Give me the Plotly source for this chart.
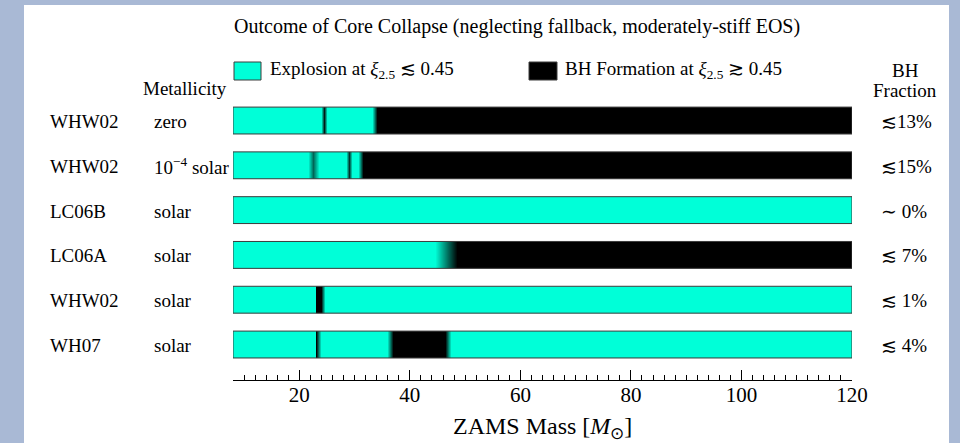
import plotly.graph_objects as go

# ---------------- data ----------------
models = ["WHW02", "WHW02", "LC06B", "LC06A", "WHW02", "WH07"]
metallicity = ["zero", "10<sup>−4</sup> solar", "solar", "solar", "solar", "solar"]
bh_fraction = ["≲13%", "≲15%", "∼ 0%", "≲ 7%", "≲ 1%", "≲ 4%"]

# ZAMS mass sample points and outcome (0 = explosion, 1 = BH formation)
mass_whw02_zero = [8, 24.0, 24.5, 25.0, 33.2, 34.1, 120]
out_whw02_zero = [0, 0, 0.9, 0, 0, 1, 1]

mass_whw02_m4 = [8, 21.5, 22.5, 23.5, 28.5, 29.0, 29.5, 30.6, 31.5, 120]
out_whw02_m4 = [0, 0, 0.6, 0, 0, 0.8, 0, 0, 1, 1]

mass_lc06b = [8, 120]
out_lc06b = [0, 0]

mass_lc06a = [8, 44.5, 48.5, 120]
out_lc06a = [0, 0, 1, 1]

mass_whw02_solar = [8, 22.9, 23.1, 24.0, 24.6, 120]
out_whw02_solar = [0, 0, 1, 1, 0, 0]

mass_wh07 = [8, 22.8, 23.1, 24.0, 35.8, 37.0, 46.3, 47.4, 120]
out_wh07 = [0, 0, 1, 0, 0, 1, 1, 0, 0]

row_masses = [mass_whw02_zero, mass_whw02_m4, mass_lc06b, mass_lc06a, mass_whw02_solar, mass_wh07]
row_outcomes = [out_whw02_zero, out_whw02_m4, out_lc06b, out_lc06a, out_whw02_solar, out_wh07]

mass_range = [8, 120]
major_ticks = [20, 40, 60, 80, 100, 120]

# ---------------- styling ----------------
CYAN = "#00ffd8"
BG = "#a9b9d5"
FONT = "Liberation Serif"
W, H = 960, 443
ML, MR, MT, MB = 233, 108, 100, 63
PW, PH = W - ML - MR, H - MT - MB
HALF = 0.3  # bar half-height in row units


def px(x):
    return (x - ML) / PW


def py(y):
    return (H - MB - y) / PH


fig = go.Figure()

for i, (m, o) in enumerate(zip(row_masses, row_outcomes)):
    fig.add_trace(go.Heatmap(
        x=m, y=[i - HALF / 2, i + HALF / 2], z=[o, o],
        zmin=0, zmax=1, zsmooth="best",
        colorscale=[[0, CYAN], [1, "black"]],
        showscale=False, hoverinfo="skip",
    ))

shapes = []
# white panel
shapes.append(dict(type="rect", xref="paper", yref="paper",
                   x0=px(24), x1=px(949), y0=py(5), y1=py(450),
                   fillcolor="white", line=dict(width=0), layer="below"))
# bar outlines
for i in range(len(models)):
    shapes.append(dict(type="rect", xref="x", yref="y",
                       x0=mass_range[0], x1=mass_range[1], y0=i - HALF, y1=i + HALF,
                       line=dict(color="#3c3c3c", width=1), fillcolor="rgba(0,0,0,0)",
                       layer="above"))
# legend swatches
shapes.append(dict(type="rect", xref="paper", yref="paper",
                   x0=px(234), x1=px(261), y0=py(62), y1=py(80),
                   fillcolor=CYAN, line=dict(color="#3c3c3c", width=1)))
shapes.append(dict(type="rect", xref="paper", yref="paper",
                   x0=px(529), x1=px(557), y0=py(62), y1=py(80),
                   fillcolor="black", line=dict(color="#3c3c3c", width=1)))

ann = []
def text(x, y, s, size=19, anchor="left"):
    ann.append(dict(xref="paper", yref="paper", x=px(x), y=py(y), text=s,
                    showarrow=False, xanchor=anchor, yanchor="middle",
                    font=dict(family=FONT, size=size, color="black")))

text(517, 26, "Outcome of Core Collapse (neglecting fallback, moderately-stiff EOS)", size=20, anchor="center")
text(268, 70, "Explosion at <i>ξ</i><sub>2.5</sub> ≲ 0.45")
text(563, 70, "BH Formation at <i>ξ</i><sub>2.5</sub> ≳ 0.45")
text(141, 89, "Metallicity")
text(905, 71, "BH", anchor="center")
text(905, 91, "Fraction", anchor="center")
text(542, 428, "ZAMS Mass [<i>M</i><sub>⊙</sub>]", size=24, anchor="center")

row_y0 = 120.3
pitch = 44.85
for i in range(len(models)):
    yc = row_y0 + i * pitch + 1
    text(48, yc, models[i])
    text(152, yc, metallicity[i])
    text(879, yc, bh_fraction[i])

fig.update_layout(
    width=W, height=H,
    margin=dict(l=ML, r=MR, t=MT, b=MB),
    paper_bgcolor=BG, plot_bgcolor="white",
    shapes=shapes, annotations=ann, showlegend=False,
    xaxis=dict(range=mass_range, showgrid=False, zeroline=False,
               showline=True, linecolor="black", linewidth=1,
               ticks="inside", ticklen=10, tickcolor="black", tickwidth=1,
               tickmode="array", tickvals=major_ticks, ticklabelstandoff=-4,
               tickfont=dict(family=FONT, size=21, color="black"),
               minor=dict(ticks="inside", ticklen=5, tickcolor="black", tickwidth=1,
                          tickmode="linear", tick0=8, dtick=2, showgrid=False)),
    yaxis=dict(range=[5.792, -0.458], visible=False, showgrid=False, zeroline=False),
)

fig.write_html("out.html", config={"displayModeBar": False, "staticPlot": True},
               post_script="document.body.style.margin='0';document.body.style.overflow='hidden';")
